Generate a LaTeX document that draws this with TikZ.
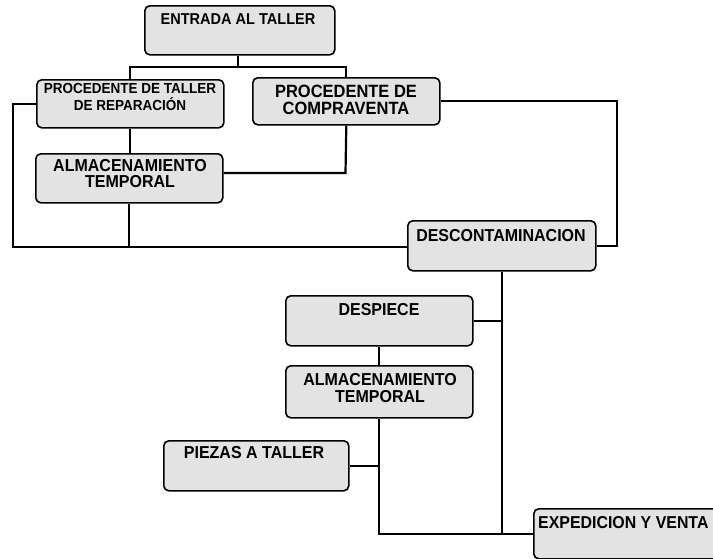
\documentclass[tikz,border=0pt]{standalone}
\usepackage{fontspec}
\setmainfont{Liberation Sans}
\newfontfamily\condfont[FakeStretch=0.925]{Liberation Sans}
\begin{document}
\begin{tikzpicture}[x=1pt,y=-1pt,
  box/.style={draw=black, line width=1.6pt, rounded corners=5pt, fill=black!11, inner sep=0pt, anchor=north west},
  txt/.style={anchor=base, inner sep=0pt},
  conn/.style={draw=black, line width=2.2pt}]
\clip (0,0) rectangle (713,558);
\fill[white] (0,0) rectangle (713,558);
% boxes
\node[box, minimum width=190pt, minimum height=49pt] (entrada) at (144,5) {};
\node[box, minimum width=187pt, minimum height=48pt] (proctaller) at (36,79) {};
\node[box, minimum width=187pt, minimum height=47pt] (proccompra) at (252,77) {};
\node[box, minimum width=187pt, minimum height=49pt] (almac1) at (35,153) {};
\node[box, minimum width=188pt, minimum height=50pt] (descont) at (407,220) {};
\node[box, minimum width=187pt, minimum height=50pt] (despiece) at (285,295) {};
\node[box, minimum width=187pt, minimum height=52pt] (almac2) at (285,365) {};
\node[box, minimum width=185pt, minimum height=50pt] (piezas) at (163,440) {};
\node[box, minimum width=210pt, minimum height=50pt] (exped) at (533,508) {};
% texts
\node[txt, font=\condfont\bfseries\fontsize{15.7}{17}\selectfont] (t-entrada) at (238,24) {ENTRADA AL TALLER};
\node[txt, font=\condfont\bfseries\fontsize{14.6}{16}\selectfont] (t-pt1) at (130,93) {PROCEDENTE DE TALLER};
\node[txt, font=\condfont\bfseries\fontsize{14.6}{16}\selectfont] (t-pt2) at (130,110) {DE REPARACIÓN};
\node[txt, font=\condfont\bfseries\fontsize{17.8}{19}\selectfont] (t-pc1) at (346,97) {PROCEDENTE DE};
\node[txt, font=\condfont\bfseries\fontsize{17.8}{19}\selectfont] (t-pc2) at (346,114) {COMPRAVENTA};
\node[txt, font=\condfont\bfseries\fontsize{17.3}{19}\selectfont] (t-a11) at (130,171) {ALMACENAMIENTO};
\node[txt, font=\condfont\bfseries\fontsize{17.3}{19}\selectfont] (t-a12) at (130,187) {TEMPORAL};
\node[txt, font=\condfont\bfseries\fontsize{17.3}{19}\selectfont] (t-desc) at (501,241) {DESCONTAMINACION};
\node[txt, font=\condfont\bfseries\fontsize{17.3}{19}\selectfont] (t-desp) at (379,315) {DESPIECE};
\node[txt, font=\condfont\bfseries\fontsize{17.3}{19}\selectfont] (t-a21) at (380,385) {ALMACENAMIENTO};
\node[txt, font=\condfont\bfseries\fontsize{17.3}{19}\selectfont] (t-a22) at (380,402) {TEMPORAL};
\node[txt, font=\condfont\bfseries\fontsize{17.3}{19}\selectfont] (t-piez) at (254,458) {PIEZAS A TALLER};
\node[txt, anchor=base west, font=\condfont\bfseries\fontsize{17.2}{19}\selectfont] (t-exp) at (538,528) {EXPEDICION Y VENTA};
% junction coordinates
\coordinate (jtop) at (238,67);
\coordinate (jc3) at (345.5,173);
\coordinate (jll) at (13,247);
\coordinate (jrr) at (617,100);
% connectors
\draw[conn] (entrada.south -| jtop) -- (jtop);
\draw[conn] (proctaller.north) -- (proctaller.north |- jtop) -- (proccompra.north |- jtop) -- (proccompra.north);
\draw[conn] (proctaller.south) -- (almac1.north -| proctaller.south);
\draw[conn] (proccompra.south) -- (jc3) -- (jc3 -| almac1.east);
\draw[conn] (proctaller.west) -- (proctaller.west -| jll) -- (jll) -- (jll -| descont.west);
\draw[conn] (almac1.south) -- (almac1.south |- jll);
\draw[conn] (proccompra.east) -- (proccompra.east -| jrr) -- (jrr |- descont.east) -- (descont.east);
\draw[conn] (descont.south) |- (exped.west);
\draw[conn] (despiece.east) -- (despiece.east -| descont.south);
\draw[conn] (despiece.south) -- (almac2.north);
\draw[conn] (almac2.south) |- (exped.west);
\draw[conn] (piezas.east) -- (piezas.east -| almac2.south);
\end{tikzpicture}
\end{document}
